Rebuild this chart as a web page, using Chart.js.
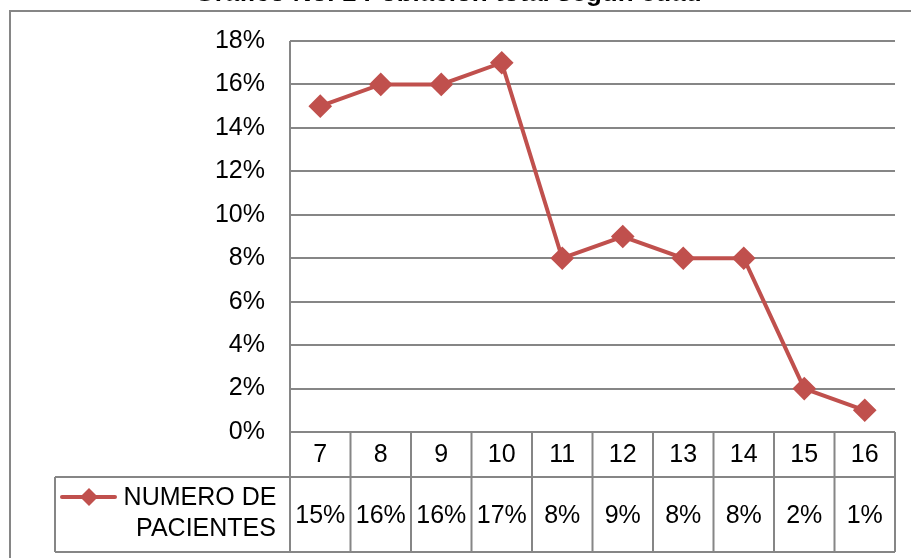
<!DOCTYPE html>
<html>
<head>
<meta charset="utf-8">
<script src="https://cdn.jsdelivr.net/npm/chart.js@4/dist/chart.umd.min.js"></script>
<style>
  html, body { margin: 0; padding: 0; background: #fff; }
  #wrap { width: 911px; height: 558px; }
</style>
</head>
<body>
<div id="wrap"><canvas id="chart" width="911" height="558"></canvas></div>
<script>
// data
const titleText = "Gráfico No. 1 Población total según edad";
const edades = ["7", "8", "9", "10", "11", "12", "13", "14", "15", "16"];
const pacientes = [0.15, 0.16, 0.16, 0.17, 0.08, 0.09, 0.08, 0.08, 0.02, 0.01];
const seriesName = ["NUMERO DE", "PACIENTES"];
const yTicks = [0, 0.02, 0.04, 0.06, 0.08, 0.10, 0.12, 0.14, 0.16, 0.18];

const lineColor = "#C0504D";
const gridColor = "#868686";
const font = "Arial, 'Liberation Sans', sans-serif";

function pct(v) {
    return Math.round(v * 100) + "%";
}

// frame, title and data table drawn below the plot
const tablePlugin = {
    id: 'tablePlugin',
    beforeDraw(chart) {
        const ctx = chart.ctx;
        ctx.save();
        ctx.fillStyle = "#fff";
        ctx.fillRect(0, 0, chart.width, chart.height);
        // title, cut off by the top edge
        ctx.fillStyle = "#000";
        ctx.font = "bold 26px " + font;
        ctx.textAlign = "center";
        ctx.textBaseline = "alphabetic";
        ctx.fillText(titleText, 448, 1);
        // outer frame
        ctx.strokeStyle = gridColor;
        ctx.lineWidth = 2;
        ctx.beginPath();
        ctx.moveTo(10, chart.height + 5);
        ctx.lineTo(10, 11);
        ctx.lineTo(chart.width + 5, 11);
        ctx.stroke();
        ctx.restore();
    },
    afterDraw(chart) {
        const ctx = chart.ctx;
        const x = chart.scales.x;
        const area = chart.chartArea;
        const left = area.left, right = area.right;
        const top = area.bottom;
        const mid = top + 45;
        const bottom = mid + 75;
        const legLeft = 55;
        ctx.save();
        ctx.strokeStyle = gridColor;
        ctx.lineWidth = 2;
        ctx.beginPath();
        // horizontal lines
        ctx.moveTo(legLeft, mid); ctx.lineTo(right, mid);
        ctx.moveTo(legLeft, bottom); ctx.lineTo(right, bottom);
        ctx.moveTo(legLeft, mid); ctx.lineTo(legLeft, bottom);
        ctx.moveTo(left, area.top); ctx.lineTo(left, bottom);
        ctx.moveTo(right, top); ctx.lineTo(right, bottom);
        // column separators
        for (let i = 1; i < edades.length; i++) {
            const px = (x.getPixelForValue(i - 1) + x.getPixelForValue(i)) / 2;
            ctx.moveTo(px, top); ctx.lineTo(px, bottom);
        }
        ctx.stroke();

        ctx.fillStyle = "#000";
        ctx.font = "25px " + font;
        ctx.textAlign = "center";
        ctx.textBaseline = "middle";
        for (let i = 0; i < edades.length; i++) {
            const px = x.getPixelForValue(i);
            ctx.fillText(edades[i], px, (top + mid) / 2 + 1);
            ctx.fillText(pct(pacientes[i]), px, (mid + bottom) / 2 + 2);
        }
        // legend key
        ctx.strokeStyle = lineColor;
        ctx.lineWidth = 4;
        ctx.lineCap = "round";
        ctx.beginPath();
        ctx.moveTo(62, 497); ctx.lineTo(115, 497);
        ctx.stroke();
        ctx.fillStyle = lineColor;
        ctx.beginPath();
        ctx.moveTo(89, 488); ctx.lineTo(98, 497); ctx.lineTo(89, 506); ctx.lineTo(80, 497);
        ctx.closePath();
        ctx.fill();
        ctx.fillStyle = "#000";
        ctx.fillText(seriesName[0], 200, 498);
        ctx.fillText(seriesName[1], 206, 529);
        ctx.restore();
    }
};

new Chart(document.getElementById("chart"), {
    type: 'line',
    data: {
        labels: edades,
        datasets: [{
            label: seriesName.join(" "),
            data: pacientes,
            borderColor: lineColor,
            backgroundColor: lineColor,
            borderWidth: 4,
            pointStyle: 'rectRot',
            pointRadius: 9,
            pointHoverRadius: 9,
            tension: 0
        }]
    },
    options: {
        responsive: false,
        animation: false,
        layout: { padding: { top: 41, bottom: 126, right: 16, left: 0 } },
        plugins: {
            legend: { display: false },
            tooltip: { enabled: false }
        },
        scales: {
            x: {
                display: false,
                offset: true
            },
            y: {
                min: 0,
                max: 0.18,
                afterFit(scale) { scale.width = 290; },
                afterBuildTicks(scale) { scale.ticks = yTicks.map(v => ({ value: v })); },
                border: { display: false },
                grid: { color: gridColor, lineWidth: 2, drawTicks: false },
                ticks: {
                    padding: 25,
                    color: "#000",
                    font: { family: font, size: 25 },
                    callback: v => pct(v)
                }
            }
        }
    },
    plugins: [tablePlugin]
});
</script>
</body>
</html>
